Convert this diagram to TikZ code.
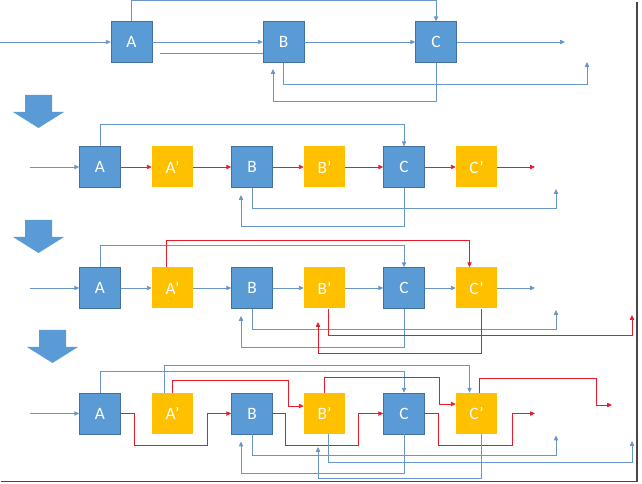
\documentclass[tikz,border=0pt]{standalone}
\usepackage{fontspec}
\setmainfont{Carlito}
\usetikzlibrary{calc,positioning,arrows.meta}
\definecolor{boxblue}{RGB}{91,155,213}
\definecolor{edgeblue}{RGB}{65,113,156}
\definecolor{lineblue}{RGB}{104,150,200}
\definecolor{boxgold}{RGB}{255,192,0}
\definecolor{linered}{RGB}{232,28,40}
\tikzset{bv/.style={draw=edgeblue,fill=boxblue,rectangle,minimum
size=30.75pt,inner sep=0pt,text=white,font=\fontsize{13}{13}\selectfont},gv/.style={fill=boxgold,rectangle,minimum
size=30.75pt,inner sep=0pt,text=white,font=\fontsize{13}{13}\selectfont},
bl/.style={draw=lineblue,line width=0.6pt},rl/.style={draw=linered,line width=0.6pt},
ah/.style={-{Triangle[length=3.6pt,width=3.2pt]}}}
\begin{document}
\begin{tikzpicture}[x=0.75pt,y=-0.75pt]
		\useasboundingbox (0,0) rectangle (642,484);
		% frame shadow
		\draw[gray!55!black,line width=1.4pt] (637,2) -- (637,481.5) -- (1,481.5);
		% down arrows
		\foreach \x/\y in {13/95,13/220,27/330}
		\fill[boxblue] (\x+12,\y) -- (\x+39,\y) -- (\x+39,\y+17) -- (\x+51,\y+17)
		-- (\x+25.5,\y+33) -- (\x,\y+17) -- (\x+12,\y+17) -- cycle;
		% first row
		\node[bv] (a1) at (131.5,42) {A};
		\node[bv] (b1) at (283.5,42) {B};
		\node[bv] (c1) at (436,42) {C};
		\coordinate (in1) at (0,42);
		\coordinate (out1) at (565,42);
		\coordinate (f1) at (160,53);
		\coordinate (fb1) at (587,62);
		\coordinate (bk1) at (273,69);
		\draw[bl,ah] (in1) -- (a1);
		\draw[bl,ah] (a1) -- (b1);
		\draw[bl] (f1) -- (f1 -| b1.west);
		\draw[bl,ah] (b1) -- (c1);
		\draw[bl,ah] (c1) -- (out1);
		\draw[bl,ah] (a1.north) -- ++(0,-21) -| (c1.north);
		\draw[bl,ah] (b1.south) -- ++(0,22) -| (fb1);
		\draw[bl,ah] (c1.south) -- ++(0,39) -| (bk1);
		% rows with copies
		\foreach \r/\y in {2/167,3/288,4/413.5}{
				\node[bv] (a\r) at (100,\y) {A};
				\node[gv] (ap\r) at (172.5,\y) {A’};
				\node[bv] (b\r) at (252,\y) {B};
				\node[gv] (bp\r) at (324.5,\y) {B’};
				\node[bv] (c\r) at (404,\y) {C};
				\node[gv] (cp\r) at (476.5,\y) {C’};
				\coordinate (in\r) at (30,\y);
				\coordinate (out\r) at (535,\y);
				\coordinate (fb\r) at (556,\y+22);
				\coordinate (bk\r) at (241,\y+28);
				\draw[bl,ah] (in\r) -- (a\r);
				\draw[bl,ah] (a\r.north) -- ++(0,-21.5) -| (c\r.north);
				\draw[bl,ah] (b\r.south) -- ++(0,21) -| (fb\r);
				\draw[bl,ah] (c\r.south) -- ++(0,39) -| (bk\r);
			}
		% second row
		\draw[rl,ah] (a2) -- (ap2);
		\draw[rl,ah] (ap2) -- (b2);
		\draw[rl,ah] (b2) -- (bp2);
		\draw[rl,ah] (bp2) -- (c2);
		\draw[rl,ah] (c2) -- (cp2);
		\draw[rl,ah] (cp2) -- (out2);
		% third row
		\draw[bl,ah] (a3) -- (ap3);
		\draw[bl,ah] (ap3) -- (b3);
		\draw[bl,ah] (b3) -- (bp3);
		\draw[bl,ah] (bp3) -- (c3);
		\draw[bl,ah] (c3) -- (cp3);
		\draw[bl,ah] (cp3) -- (out3);
		\coordinate (rf3) at (632,315);
		\coordinate (rb3) at (318,322);
		\draw[rl,ah] ($(ap3.north)+(-6,0)$) -- ++(0,-27) -| ($(cp3.north)+(-7,0)$);
		\draw[rl,ah] ($(bp3.south)+(4,0)$) -- ++(0,27) -| (rf3);
		\draw[rl,ah] ($(cp3.south)+(4.5,0)$) -- ++(0,45) -| (rb3);
		% fourth row
		\coordinate (rout4) at (612,405);
		\coordinate (bf4) at (632,441);
		\coordinate (bb4) at (318,447);
		\draw[bl,ah] ($(ap4.north)+(-8,0)$) -- ++(0,-27) -| ($(cp4.north)+(-7,0)$);
		\draw[rl,ah] (a4.east) -- ++(14,0) -- ++(0,32) -- ++(73,0) |- (b4.west);
		\draw[rl,ah] (ap4.north) -- ++(0,-12) -| ($(bp4.west)+(-15,-7.5)$) -- ($(bp4.west)+(0,-7.5)$);
		\draw[rl,ah] (b4.east) -- ++(13,0) -- ++(0,32) -- ++(73,0) |- (c4.west);
		\draw[rl,ah] (bp4.north) -- ++(0,-15) -| ($(cp4.west)+(-16,-9.5)$) -- ($(cp4.west)+(0,-9.5)$);
		\draw[rl,ah] (c4.east) -- ++(14,0) -- ++(0,32) -- ++(74,0) |- (out4);
		\draw[rl,ah] ($(cp4.north)+(2.5,0)$) -- ++(0,-14) -| ($(rout4)+(-16,0)$) -- (rout4);
		\draw[bl,ah] ($(bp4.south)+(4,0)$) -- ++(0,28) -| (bf4);
		\draw[bl,ah] ($(cp4.south)+(4.5,0)$) -- ++(0,44) -| (bb4);
	\end{tikzpicture}
\end{document}
